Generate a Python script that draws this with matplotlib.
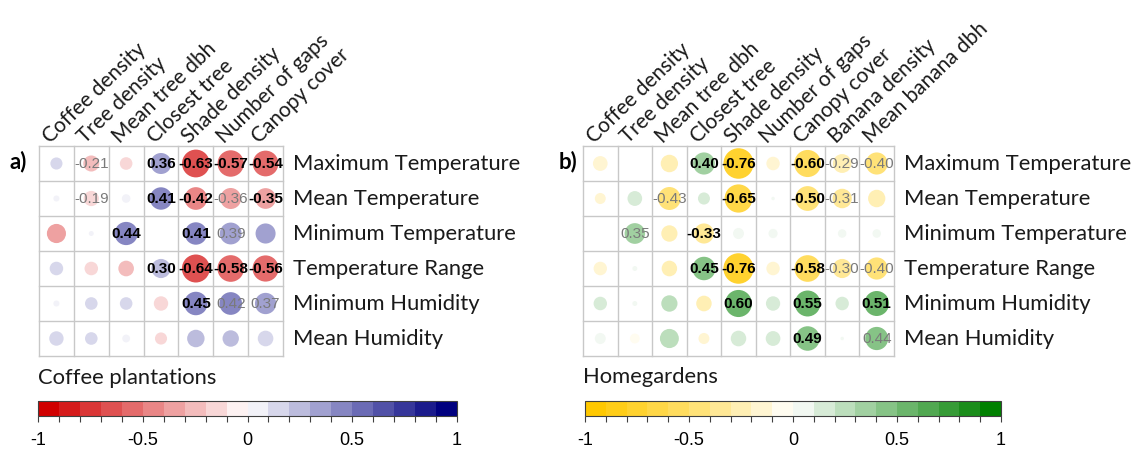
import numpy as np
import matplotlib as mpl
import matplotlib.pyplot as plt
from matplotlib.colors import LinearSegmentedColormap, BoundaryNorm
from matplotlib.patches import Circle
from matplotlib.collections import PatchCollection

# predictors (columns) and microclimate variables (rows)
coffee_cols = ['Coffee density', 'Tree density', 'Mean tree dbh', 'Closest tree',
               'Shade density', 'Number of gaps', 'Canopy cover']
home_cols = coffee_cols + ['Banana density', 'Mean banana dbh']
climate_rows = ['Maximum Temperature', 'Mean Temperature', 'Minimum Temperature',
                'Temperature Range', 'Minimum Humidity', 'Mean Humidity']

# correlation coefficients, coffee plantations
coffee_r = [
    [0.12, -0.21, -0.13, 0.36, -0.63, -0.57, -0.54],
    [0.03, -0.19, 0.06, 0.41, -0.42, -0.36, -0.35],
    [-0.30, 0.02, 0.44, 0.00, 0.41, 0.39, 0.33],
    [0.15, -0.15, -0.20, 0.30, -0.64, -0.58, -0.56],
    [0.03, 0.13, 0.13, -0.17, 0.45, 0.42, 0.37],
    [0.17, 0.13, 0.05, -0.12, 0.25, 0.22, 0.20],
]
# 2 = strongly significant (bold label), 1 = weakly significant (grey label), 0 = no label
coffee_sig = [
    [0, 1, 0, 2, 2, 2, 2],
    [0, 1, 0, 2, 2, 1, 2],
    [0, 0, 2, 0, 2, 1, 0],
    [0, 0, 0, 2, 2, 2, 2],
    [0, 0, 0, 0, 2, 1, 1],
    [0, 0, 0, 0, 0, 0, 0],
]

# correlation coefficients, homegardens
home_r = [
    [-0.18, 0.00, -0.25, 0.40, -0.76, -0.15, -0.60, -0.29, -0.40],
    [-0.10, 0.18, -0.43, 0.12, -0.65, 0.01, -0.50, -0.31, -0.25],
    [0.00, 0.35, -0.22, -0.33, 0.10, 0.07, 0.00, 0.06, 0.06],
    [-0.15, 0.02, -0.20, 0.45, -0.76, -0.15, -0.58, -0.30, -0.40],
    [0.15, 0.02, 0.22, -0.20, 0.60, 0.17, 0.55, 0.15, 0.51],
    [0.10, -0.08, 0.30, -0.10, 0.20, 0.18, 0.49, 0.01, 0.44],
]
home_sig = [
    [0, 0, 0, 2, 2, 0, 2, 1, 1],
    [0, 0, 1, 0, 2, 0, 2, 1, 0],
    [0, 1, 0, 2, 0, 0, 0, 0, 0],
    [0, 0, 0, 2, 2, 0, 2, 1, 1],
    [0, 0, 0, 0, 2, 0, 2, 0, 2],
    [0, 0, 0, 0, 0, 0, 2, 0, 1],
]

cbar_ticks = [-1, -0.5, 0, 0.5, 1]
cbar_ticklabels = ['-1', '-0.5', '0', '0.5', '1']

LABEL_FONT = ['Lato', 'DejaVu Sans']
NUM_FONT = ['Liberation Sans', 'DejaVu Sans']

W, H = 1148, 452
fig = plt.figure(figsize=(W / 100, H / 100), dpi=100)


def box(x0, y0, x1, y1):
    # pixel box (top-left origin) -> figure fraction rect
    return [x0 / W, 1 - y1 / H, (x1 - x0) / W, (y1 - y0) / H]


red_blue = LinearSegmentedColormap.from_list(
    'rb', ['#d00000', '#ffffff', '#00007f'], N=20)
gold_green = LinearSegmentedColormap.from_list(
    'yg', [(0.0, '#ffc800'), (0.25, '#ffe070'), (0.5, '#ffffff'), (1.0, '#008000')], N=20)
norm = BoundaryNorm(np.linspace(-1, 1, 21), 20)


def draw_panel(rect, r, sig, cols, rows, cmap, tag, tag_xy):
    r = np.asarray(r)
    sig = np.asarray(sig)
    nr, nc = r.shape
    ax = fig.add_axes(rect)
    ax.set_xlim(0, nc)
    ax.set_ylim(nr, 0)
    ax.axis('off')

    circles = [Circle((j + 0.5, i + 0.5), 0.5 * np.sqrt(abs(r[i, j])))
               for i in range(nr) for j in range(nc)]
    pc = PatchCollection(circles, cmap=cmap, norm=norm, edgecolor='none', zorder=2)
    pc.set_array(r.ravel())
    ax.add_collection(pc)

    for k in range(nc + 1):
        ax.plot([k, k], [0, nr], color='#c8c8c8', lw=1.0, zorder=1, clip_on=False)
    for k in range(nr + 1):
        ax.plot([0, nc], [k, k], color='#c8c8c8', lw=1.0, zorder=1, clip_on=False)

    for i in range(nr):
        for j in range(nc):
            if sig[i, j] == 2:
                ax.text(j + 0.5, i + 0.5, f'{r[i, j]:.2f}', ha='center', va='center',
                        fontsize=11, fontweight='bold', color='black',
                        family=NUM_FONT, zorder=3)
            elif sig[i, j] == 1:
                ax.text(j + 0.5, i + 0.5, f'{r[i, j]:.2f}', ha='center', va='center',
                        fontsize=11, color='#7a7a7a', family=NUM_FONT, zorder=3)

    for i, name in enumerate(rows):
        ax.text(nc + 0.28, i + 0.5, name, ha='left', va='center',
                fontsize=15.8, family=LABEL_FONT, color='#1a1a1a')
    for j, name in enumerate(cols):
        ax.text(j + 0.32, -0.08, name, ha='left', va='baseline', rotation=44,
                rotation_mode='anchor', fontsize=15, family=LABEL_FONT,
                color='#1a1a1a')

    fig.text(tag_xy[0] / W, 1 - tag_xy[1] / H, tag, ha='left', va='center',
             fontsize=16, fontweight='bold', family=LABEL_FONT)


def draw_cbar(rect, cmap, title, title_xy):
    cax = fig.add_axes(rect)
    cb = mpl.colorbar.ColorbarBase(cax, cmap=cmap, norm=norm,
                                   orientation='horizontal', ticks=cbar_ticks)
    cb.set_ticklabels(cbar_ticklabels)
    cb.outline.set_edgecolor('#404040')
    cb.outline.set_linewidth(0.8)
    cax.set_xticks(np.linspace(-1, 1, 21), minor=True)
    cax.tick_params(axis='x', which='both', length=4, width=0.8, color='#404040',
                    direction='out', pad=7)
    for lab in cax.get_xticklabels():
        lab.set_family(NUM_FONT)
        lab.set_fontsize(13)
    fig.text(title_xy[0] / W, 1 - title_xy[1] / H, title, ha='left', va='center',
             fontsize=15.8, family=LABEL_FONT, color='#1a1a1a')


draw_panel(box(39, 147, 283, 357), coffee_r, coffee_sig, coffee_cols,
           climate_rows, red_blue, 'a)', (9, 162))
draw_panel(box(583, 147, 894, 357), home_r, home_sig, home_cols,
           climate_rows, gold_green, 'b)', (559, 162))

draw_cbar(box(38, 402, 457, 417), red_blue, 'Coffee plantations', (38, 378))
draw_cbar(box(585, 402, 1001, 417), gold_green, 'Homegardens', (583, 377))

fig.savefig('out.png', dpi=100)
